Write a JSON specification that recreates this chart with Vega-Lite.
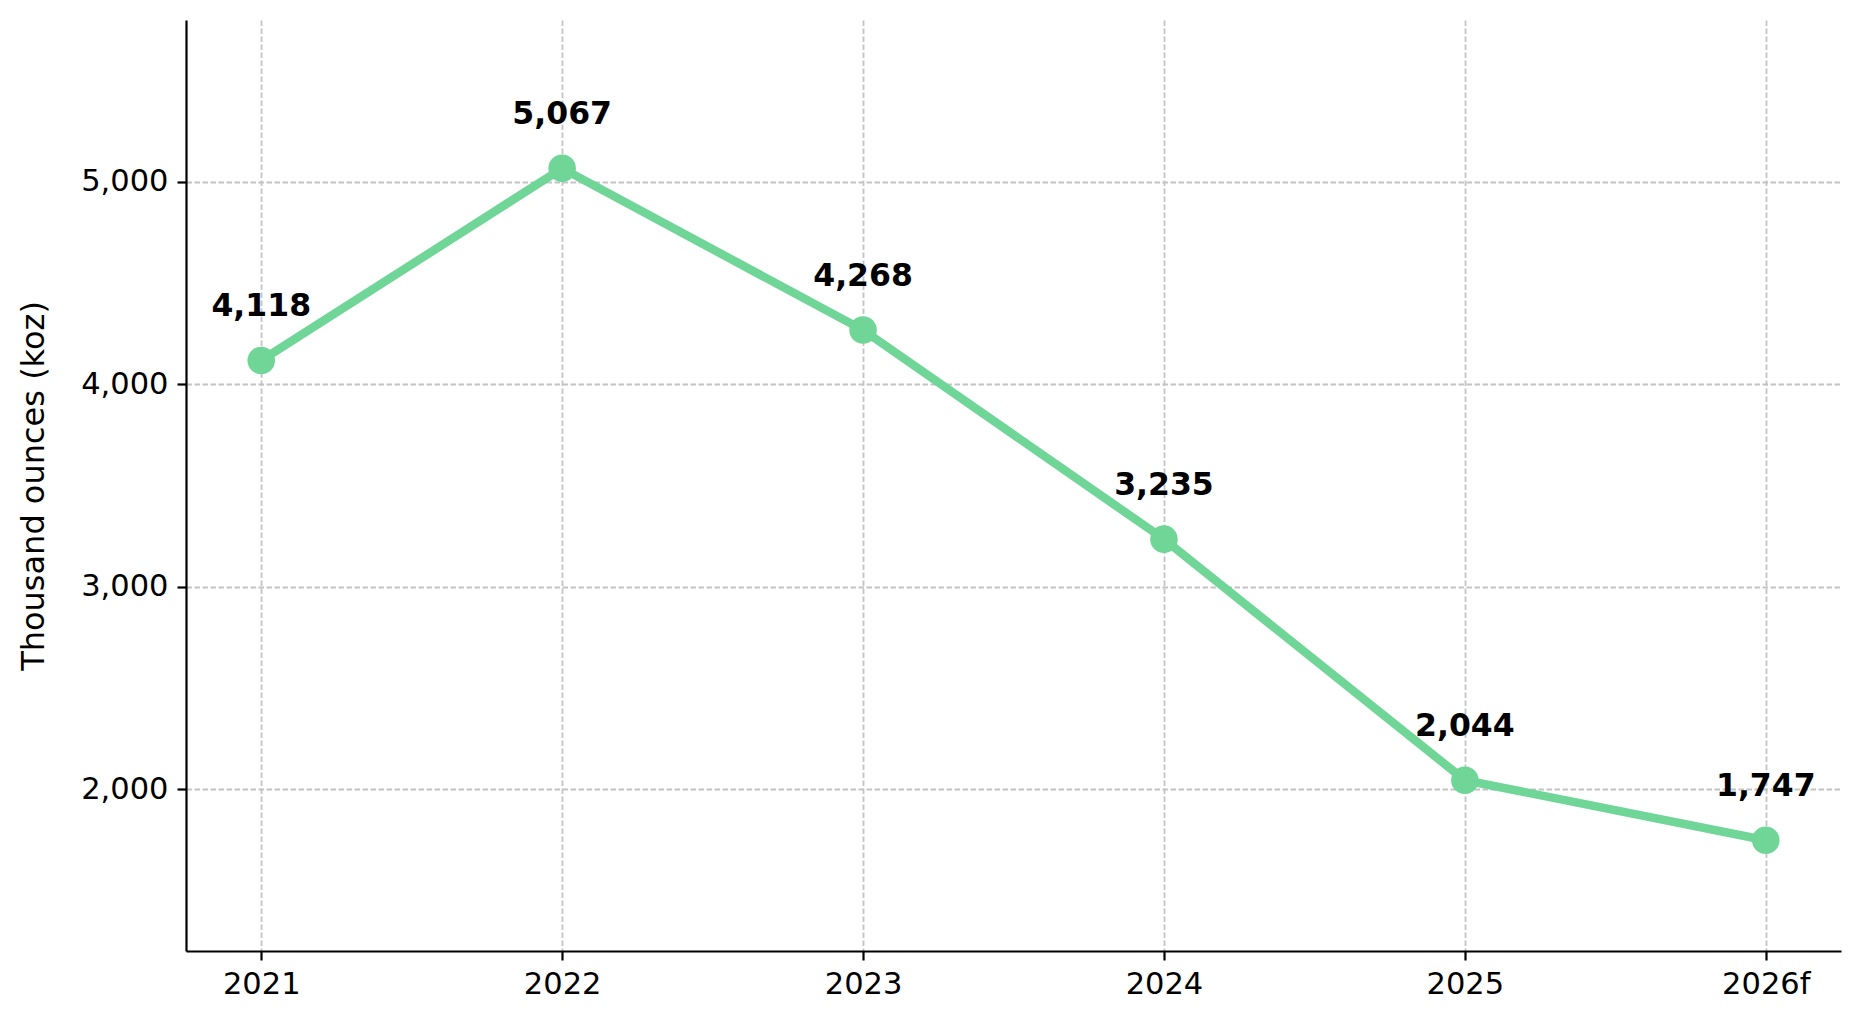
{
  "$schema": "https://vega.github.io/schema/vega-lite/v6.json",
  "autosize": {"type": "none"},
  "padding": {"left": 186, "top": 20, "right": 20, "bottom": 68},
  "width": 1655,
  "height": 931,
  "background": "white",
  "config": {
    "view": {"stroke": null},
    "axis": {
      "domainColor": "black",
      "domainWidth": 2.2,
      "tickColor": "black",
      "tickWidth": 2.2,
      "tickSize": 9,
      "labelPadding": 9,
      "labelFont": "DejaVu Sans",
      "labelFontSize": 30.5,
      "labelColor": "black",
      "titleFont": "DejaVu Sans",
      "titleFontSize": 32,
      "titleFontWeight": "normal",
      "titleColor": "black",
      "grid": true,
      "gridColor": "#c4c4c4",
      "gridWidth": 1.8,
      "gridDash": [5.5, 2.5]
    }
  },
  "data": {
    "values": [
      {"year": "2021", "value": 4118},
      {"year": "2022", "value": 5067},
      {"year": "2023", "value": 4268},
      {"year": "2024", "value": 3235},
      {"year": "2025", "value": 2044},
      {"year": "2026f", "value": 1747}
    ]
  },
  "encoding": {
    "x": {
      "field": "year",
      "type": "ordinal",
      "sort": null,
      "scale": {"type": "point", "padding": 0.25},
      "axis": {"title": null, "labelAngle": 0}
    },
    "y": {
      "field": "value",
      "type": "quantitative",
      "scale": {"domain": [1200, 5800], "nice": false, "zero": false},
      "axis": {
        "title": "Thousand ounces (koz)",
        "values": [2000, 3000, 4000, 5000],
        "format": ",.0f",
        "titleX": -153,
        "titleBaseline": "middle"
      }
    }
  },
  "layer": [
    {"mark": {"type": "line", "color": "#6fd697", "strokeWidth": 8.5}},
    {"mark": {"type": "point", "filled": true, "color": "#6fd697", "size": 760, "opacity": 1}},
    {
      "mark": {
        "type": "text",
        "font": "DejaVu Sans",
        "fontSize": 31.5,
        "fontWeight": "bold",
        "color": "black",
        "align": "center",
        "baseline": "alphabetic",
        "dy": -44
      },
      "encoding": {"text": {"field": "value", "type": "quantitative", "format": ",.0f"}}
    }
  ]
}
